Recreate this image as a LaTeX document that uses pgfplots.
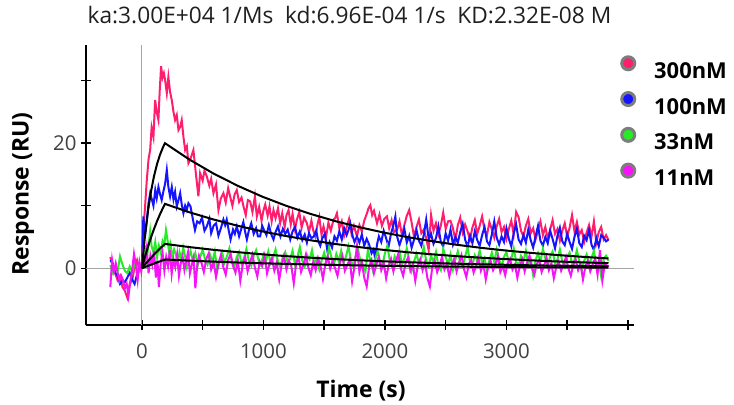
\documentclass[border=0pt]{standalone}
\usepackage{fontspec}
\setmainfont{Open Sans}
\usepackage{pgfplots}
\usepackage{pgfplotstable}
\pgfplotsset{compat=1.18}
\definecolor{c300}{RGB}{255,30,110}
\definecolor{c100}{RGB}{20,20,255}
\definecolor{c33}{RGB}{40,235,40}
\definecolor{c11}{RGB}{245,20,245}
\definecolor{ringc}{RGB}{125,125,125}
\definecolor{tickc}{RGB}{64,64,64}

\pgfplotstableread{
t y
-260 1.8
-240 0.5
-220 -0.8
-200 -1.9
-180 -1.2
-160 -3.0
-140 -3.6
-120 -4.7
-100 -2.5
-80 -1.9
-60 0.2
-40 1.3
-20 -0.3
0 0.3
12 6.1
25 9.5
40 14.0
55 17.5
68 18.9
80 22.5
95 21.0
109 26.9
122 25.0
136 23.7
147 28.5
158 32.3
170 30.5
181 31.2
191 30.1
205 28.0
218 30.6
232 28.2
246 26.9
260 25.0
273 23.7
287 24.5
301 22.1
315 22.6
328 23.7
342 21.0
356 18.9
370 19.5
383 16.8
400 17.5
424 18.9
445 15.0
465 11.5
479 15.2
500 14.0
515 15.6
534 14.7
555 13.2
570 14.3
589 12.0
610 13.4
630 9.3
650 11.2
671 12.0
690 10.5
710 12.8
726 11.5
745 10.0
763 11.8
781 12.5
800 10.6
820 11.3
836 9.9
855 8.5
872 10.9
891 10.7
910 9.0
930 11.5
946 8.3
965 9.8
985 7.6
1000 9.2
1015 10.2
1035 8.4
1050 9.9
1068 7.5
1083 9.3
1100 8.0
1120 9.6
1138 7.2
1155 8.8
1175 6.6
1190 8.5
1207 9.3
1225 7.0
1240 8.7
1260 6.2
1276 7.8
1295 9.0
1315 6.5
1335 8.1
1358 7.2
1375 5.8
1395 7.6
1410 6.1
1427 5.1
1445 7.0
1460 8.2
1478 5.4
1495 6.7
1515 4.9
1535 7.3
1555 6.0
1577 7.8
1590 8.0
1605 8.8
1625 6.4
1645 7.5
1665 5.2
1687 6.7
1705 7.9
1725 5.5
1745 6.8
1770 5.1
1790 6.9
1810 5.9
1830 7.6
1852 8.8
1865 9.6
1880 10.1
1895 8.5
1910 9.2
1935 7.2
1955 8.6
1975 6.8
1995 7.9
2017 8.3
2035 6.4
2055 7.7
2075 5.8
2100 6.1
2120 7.5
2140 5.3
2160 6.9
2180 8.4
2200 9.3
2220 7.3
2240 5.0
2260 6.6
2280 7.8
2300 5.6
2320 6.2
2340 4.8
2360 2.9
2380 8.5
2400 6.0
2420 7.2
2440 5.4
2460 6.8
2480 8.9
2500 6.3
2520 7.5
2540 7.6
2560 6.4
2580 4.5
2600 6.9
2620 8.1
2640 5.7
2660 7.0
2680 5.9
2700 4.6
2720 6.5
2740 7.7
2760 5.5
2780 6.8
2800 8.3
2820 6.1
2840 5.3
2860 7.4
2880 6.2
2900 4.9
2920 6.7
2940 7.9
2960 5.8
2980 6.6
3000 4.7
3020 6.3
3040 7.6
3060 5.4
3080 9.0
3100 8.2
3120 6.0
3140 5.1
3160 6.8
3180 7.9
3200 5.6
3220 6.4
3240 4.6
3260 6.1
3280 7.5
3300 5.3
3320 6.6
3340 4.8
3360 6.2
3380 7.7
3400 5.5
3420 6.3
3440 4.4
3460 6.0
3480 7.2
3500 5.1
3520 6.5
3540 8.5
3560 5.9
3580 7.4
3600 5.4
3620 6.1
3640 4.2
3660 5.7
3680 6.9
3700 5.0
3720 7.5
3740 4.1
3760 5.8
3780 6.6
3800 4.6
3820 5.3
3840 4.5
}\tpink

\pgfplotstableread{
t y
-260 1.3
-240 0.8
-220 -0.7
-200 -1.2
-180 -2.5
-160 -2.0
-140 -2.2
-120 -1.5
-100 -0.7
-80 -1.8
-60 -2.5
-40 -1.0
-20 -0.3
0 0.4
12 8.3
25 5.1
40 7.5
55 10.5
68 12.0
82 11.0
95 10.0
110 12.5
122 11.2
136 13.0
150 11.8
163 10.9
178 12.4
191 13.5
205 15.7
218 13.0
232 11.5
246 13.0
260 11.0
273 12.2
287 9.9
300 10.8
315 12.0
328 10.2
342 8.8
356 10.0
369 9.3
383 10.4
400 9.9
418 8.0
437 6.1
455 7.5
475 7.2
495 8.1
515 6.0
534 6.7
555 7.9
570 5.6
590 6.8
610 7.2
630 5.2
650 6.4
671 7.8
685 6.9
698 7.8
715 6.0
730 4.6
750 6.2
765 5.5
781 6.7
800 5.1
815 6.1
835 7.4
850 5.8
864 4.6
880 6.0
900 7.2
920 5.5
940 6.4
955 5.1
973 5.1
990 6.8
1005 6.1
1025 5.3
1045 6.9
1065 5.4
1083 4.6
1100 5.8
1120 6.7
1140 5.1
1160 6.3
1180 5.5
1200 6.2
1221 4.6
1240 5.9
1260 6.6
1280 4.9
1300 5.9
1320 4.5
1340 5.4
1358 4.1
1375 5.6
1395 4.8
1415 5.1
1435 6.0
1450 4.4
1468 3.6
1485 4.8
1505 5.5
1525 3.0
1545 4.2
1565 3.3
1585 5.1
1605 4.4
1625 5.9
1645 4.6
1665 6.4
1685 5.3
1700 6.1
1715 7.2
1735 5.1
1750 4.2
1770 5.1
1790 4.1
1810 5.4
1830 3.6
1850 4.7
1870 3.8
1890 2.4
1907 3.0
1920 1.5
1935 3.8
1950 5.1
1970 4.2
1990 6.0
2010 4.8
2030 3.5
2050 5.5
2070 6.9
2086 8.3
2100 5.1
2120 3.7
2140 4.9
2160 6.3
2180 4.1
2200 5.2
2220 3.3
2240 4.6
2260 6.1
2280 4.4
2300 3.6
2320 5.3
2340 7.8
2360 4.7
2380 5.5
2400 3.9
2420 4.8
2440 6.7
2460 4.2
2480 3.5
2500 5.6
2520 4.4
2540 6.2
2560 3.8
2580 5.0
2600 4.1
2620 5.8
2640 7.1
2660 4.6
2680 3.4
2700 5.2
2720 4.0
2740 5.9
2760 4.5
2780 3.6
2800 5.3
2820 6.6
2840 4.3
2860 3.7
2880 5.4
2900 7.5
2920 4.9
2940 3.8
2960 5.1
2980 4.2
3000 6.4
3020 4.7
3040 3.5
3060 5.6
3080 7.0
3100 4.6
3120 3.9
3140 5.3
3160 4.1
3180 6.2
3200 4.5
3220 3.3
3240 5.1
3260 6.8
3280 4.4
3300 3.6
3320 5.0
3340 4.0
3360 6.0
3380 4.7
3400 3.2
3420 5.2
3440 6.5
3460 4.3
3480 3.7
3500 5.5
3520 4.2
3540 3.1
3560 5.0
3580 6.3
3600 4.0
3620 3.4
3640 5.2
3660 4.5
3680 6.1
3700 3.8
3720 2.9
3740 4.8
3760 3.5
3780 5.3
3800 4.9
3820 4.3
3840 4.6
}\tblue

\pgfplotstableread{
t y
-260 0.5
-240 -0.7
-220 0.2
-200 -0.5
-180 1.9
-160 0.6
-140 -0.4
-120 -0.8
-100 0.3
-80 -0.6
-60 0.7
-40 0.1
-20 -0.4
0 0.2
15 2.0
30 3.2
45 2.4
60 4.5
68 5.9
80 3.5
95 2.6
110 4.2
125 1.8
140 3.6
155 2.5
170 4.4
185 3.8
198 6.1
210 4.6
222 2.9
235 3.9
250 1.8
265 3.0
280 2.2
295 0.8
310 2.6
325 1.5
340 3.3
355 2.0
370 0.2
385 1.7
400 2.8
420 1.2
440 2.4
460 0.5
480 1.8
500 3.0
520 1.4
540 0.6
560 2.2
580 1.0
600 2.7
620 -0.3
640 1.3
660 2.5
680 0.9
700 1.9
720 3.2
740 1.1
760 0.2
780 1.8
800 2.6
820 0.7
840 1.6
860 3.1
880 1.2
900 0.4
920 2.0
940 2.9
960 1.3
980 0.5
1000 2.2
1020 1.1
1040 2.7
1060 0.8
1080 1.7
1100 3.0
1120 1.0
1140 0.1
1160 1.9
1180 2.6
1200 0.9
1220 1.5
1240 2.8
1260 0.6
1280 1.8
1300 3.4
1320 1.2
1340 0.3
1360 2.1
1380 1.4
1400 2.9
1420 0.7
1440 1.6
1460 -0.2
1480 1.3
1500 2.5
1520 1.0
1540 3.3
1560 1.7
1580 0.5
1600 2.3
1620 1.1
1640 2.8
1660 0.9
1680 1.9
1700 3.5
1720 1.4
1740 0.2
1760 2.0
1780 2.9
1800 1.0
1820 0.4
1840 -0.5
1860 3.0
1880 1.2
1900 -0.3
1920 1.5
1940 2.7
1960 1.1
1980 0.6
2000 2.4
2020 3.6
2040 1.3
2060 0.2
2080 1.9
2100 1.0
2120 2.8
2140 0.5
2160 1.6
2180 3.2
2200 1.4
2220 -0.4
2240 1.1
2260 2.3
2280 0.8
2300 1.7
2320 3.4
2340 1.2
2360 0.3
2380 2.0
2400 1.0
2420 2.6
2440 0.4
2460 -0.3
2480 3.1
2500 1.8
2520 0.6
2540 2.2
2560 -0.2
2580 1.4
2600 2.7
2620 1.0
2640 0.3
2660 1.9
2680 3.3
2700 1.1
2720 0.5
2740 2.1
2760 1.2
2780 2.9
2800 0.7
2820 1.6
2840 -0.3
2860 1.3
2880 2.5
2900 1.0
2920 3.0
2940 1.4
2960 0.2
2980 1.8
3000 2.6
3020 0.9
3040 1.5
3060 3.2
3080 1.1
3100 0.4
3120 2.0
3140 1.2
3160 2.8
3180 0.6
3200 1.5
3220 -1.1
3240 1.3
3260 2.4
3280 1.0
3300 3.1
3320 1.6
3340 0.3
3360 1.9
3380 2.7
3400 0.8
3420 1.4
3440 3.0
3460 1.1
3480 0.2
3500 1.7
3520 2.5
3540 0.7
3560 1.3
3580 2.9
3600 1.0
3620 -0.3
3640 1.2
3660 2.2
3680 0.6
3700 1.6
3720 2.8
3740 0.4
3760 1.1
3780 -1.3
3800 1.5
3820 2.0
3840 1.2
}\tgreen

\pgfplotstableread{
t y
-260 -3.0
-245 1.3
-230 -0.5
-215 0.8
-200 -0.7
-185 -2.0
-170 -1.2
-155 -1.9
-140 -3.2
-125 -2.5
-110 -4.4
-95 -2.0
-80 -0.3
-65 2.3
-50 0.5
-35 -1.9
-20 1.0
-5 -0.5
10 2.5
25 1.0
40 3.2
55 -0.8
70 2.0
85 0.6
100 2.8
115 -1.5
128 1.2
140 -3.0
155 0.9
170 2.5
185 -0.4
200 1.8
215 0.3
230 2.9
245 -0.9
260 1.4
275 0.2
290 2.2
305 -1.2
320 0.8
335 1.9
350 -0.3
365 1.2
380 2.6
395 -0.8
410 0.5
425 1.7
440 -3.2
455 0.4
470 2.0
490 0.9
510 -0.6
530 1.5
550 2.4
570 -0.2
590 1.0
610 -1.4
630 0.7
650 2.1
670 0.2
690 -1.0
710 1.3
730 2.3
750 0.4
770 -0.7
790 1.2
810 -2.0
830 0.6
850 1.8
870 -0.5
890 0.9
910 2.2
930 0.1
950 -1.3
970 1.1
990 0.4
1010 2.0
1030 -0.8
1050 0.7
1070 1.6
1090 -0.4
1110 0.9
1130 -1.8
1150 0.5
1170 1.9
1190 -0.2
1210 1.2
1230 0.3
1250 -2.4
1270 0.8
1290 1.7
1310 -0.6
1330 0.6
1350 2.2
1370 0.1
1390 -1.1
1410 1.0
1430 -0.3
1450 1.6
1470 0.4
1490 -1.7
1510 0.7
1530 1.9
1550 -0.1
1570 1.2
1590 0.0
1610 -1.2
1630 0.9
1650 2.0
1670 -0.4
1690 0.5
1710 1.4
1730 -2.1
1750 0.3
1770 3.6
1790 -0.6
1810 1.0
1830 -1.5
1850 -2.9
1870 0.2
1890 1.3
1910 -0.8
1930 0.6
1950 1.8
1970 -0.3
1990 0.9
2010 -1.6
2030 0.4
2050 1.5
2070 -0.5
2090 1.1
2110 2.3
2130 0.0
2150 -1.2
2170 0.8
2190 1.7
2210 -0.4
2230 0.6
2250 -2.0
2270 0.3
2290 1.4
2310 -0.3
2330 1.0
2350 -1.6
2370 -2.9
2390 0.2
2410 1.2
2430 -0.6
2450 0.5
2470 1.8
2490 -0.2
2510 0.7
2530 -1.3
2550 0.4
2570 1.5
2590 -0.5
2610 0.9
2630 2.1
2650 -0.1
2670 -1.4
2690 0.6
2710 1.3
2730 -0.7
2750 0.3
2770 1.6
2790 -0.4
2810 0.8
2830 -1.8
2850 0.2
2870 1.2
2890 -0.3
2910 0.7
2930 1.9
2950 -0.6
2970 0.4
2990 -1.1
3010 0.8
3030 1.5
3050 -0.2
3070 0.6
3090 -1.5
3110 0.3
3130 1.4
3150 -0.5
3170 0.9
3190 2.0
3210 0.1
3230 -1.0
3250 0.7
3270 1.3
3290 -0.6
3310 0.4
3330 1.7
3350 -0.3
3370 0.8
3390 -1.6
3410 0.2
3430 1.1
3450 -0.4
3470 0.6
3490 1.8
3510 0.0
3530 -1.2
3550 0.5
3570 1.4
3590 -0.3
3610 0.7
3630 -1.8
3650 0.3
3670 1.2
3690 -0.5
3710 0.6
3730 1.5
3750 -1.0
3770 2.9
3790 -1.9
3810 0.8
3830 0.2
3840 0.5
}\tmag

\pgfplotstableread{
t f300 f100 f33 f11
0 0 0 0 0
25 5.11 1.80 0.58 0.19
50 9.12 3.44 1.15 0.39
75 12.28 4.94 1.68 0.57
100 14.75 6.30 2.21 0.76
125 16.69 7.55 2.70 0.94
150 18.21 8.68 3.18 1.12
175 19.40 9.72 3.62 1.29
190 20.00 10.30 3.90 1.40
390 17.40 8.96 3.39 1.22
590 15.14 7.80 2.95 1.06
790 13.18 6.79 2.57 0.92
990 11.46 5.90 2.23 0.80
1190 9.97 5.14 1.94 0.70
1390 8.68 4.47 1.69 0.61
1590 7.55 3.89 1.47 0.53
1790 6.57 3.38 1.28 0.46
1990 5.71 2.94 1.11 0.40
2190 4.97 2.56 0.97 0.35
2390 4.33 2.23 0.84 0.30
2590 3.76 1.94 0.73 0.26
2790 3.27 1.69 0.64 0.23
2990 2.85 1.47 0.56 0.20
3190 2.48 1.28 0.48 0.17
3390 2.16 1.11 0.42 0.15
3590 1.88 0.97 0.37 0.13
3790 1.63 0.84 0.32 0.11
3840 1.58 0.81 0.31 0.11
}\tfit

\begin{document}
\begin{tikzpicture}
\begin{axis}[
  at={(0,0)}, anchor=south west,
  scale only axis, width=548bp, height=280bp,
  xmin=-460, xmax=4050, ymin=-9.07, ymax=35.7,
  axis x line=bottom, axis y line=left,
  axis line style={-, line width=1.8bp, black},
  xtick={0,500,...,4000}, xticklabels={0,,1000,,2000,,3000,,},
  ytick={0,10,20,30}, yticklabels={0,,20,},
  tick align=center, major tick length=10bp,
  every tick/.style={black, line width=1.5bp},
  /pgf/number format/assume math mode=true,
  tick label style={font=\fontsize{20.5}{20.5}\selectfont, text=tickc},
  xticklabel style={anchor=base, yshift=-28bp},
  yticklabel style={anchor=east, xshift=-1bp},
  xlabel={Time (s)},
  xlabel style={at={(axis description cs:0.5018,-0.2607)}, anchor=base, font=\fontsize{23}{23}\selectfont\bfseries},
  ylabel={Response (RU)},
  ylabel style={at={(axis description cs:-0.1144,0.468)}, anchor=center, font=\fontsize{23}{23}\selectfont\bfseries},
  title={ka:3.00E+04 1/Ms\ \ kd:6.96E-04 1/s\ \ KD:2.32E-08 M},
  title style={at={(axis description cs:0.4808,1.0571)}, anchor=base, font=\fontsize{22.8}{22.8}\selectfont, text=black!88},
  legend style={at={(axis description cs:0.9745,0.964)}, anchor=north west, draw=none, fill=none,
    font=\fontsize{22}{22}\selectfont\bfseries, row sep=9.3bp, column sep=16bp, inner sep=0pt},
  legend cell align=left,
]
\addplot[ringc!70, line width=1bp, forget plot] coordinates {(0,-9.07) (0,35.7)};
\addplot[ringc!70, line width=1bp, forget plot] coordinates {(-460,0) (4050,0)};
\addplot[c300, line width=2bp, legend image code/.code={\draw[draw=ringc, line width=3bp, fill=c300] (0bp,7.8bp) circle (6.5bp);}] table[x=t,y=y] {\tpink};
\addlegendentry{300nM}
\addplot[c100, line width=2bp, legend image code/.code={\draw[draw=ringc, line width=3bp, fill=c100] (0bp,7.8bp) circle (6.5bp);}] table[x=t,y=y] {\tblue};
\addlegendentry{100nM}
\addplot[c33, line width=2bp, legend image code/.code={\draw[draw=ringc, line width=3bp, fill=c33] (0bp,7.8bp) circle (6.5bp);}] table[x=t,y=y] {\tgreen};
\addlegendentry{33nM}
\addplot[c11, line width=2bp, legend image code/.code={\draw[draw=ringc, line width=3bp, fill=c11] (0bp,7.8bp) circle (6.5bp);}] table[x=t,y=y] {\tmag};
\addlegendentry{11nM}
\addplot[black, line width=2bp, forget plot] table[x=t,y=f300] {\tfit};
\addplot[black, line width=2bp, forget plot] table[x=t,y=f100] {\tfit};
\addplot[black, line width=2bp, forget plot] table[x=t,y=f33] {\tfit};
\addplot[black, line width=2bp, forget plot] table[x=t,y=f11] {\tfit};
\end{axis}
\pgfresetboundingbox
\path[use as bounding box] (-86bp,-80bp) rectangle (648bp,325bp);
\end{tikzpicture}
\end{document}
